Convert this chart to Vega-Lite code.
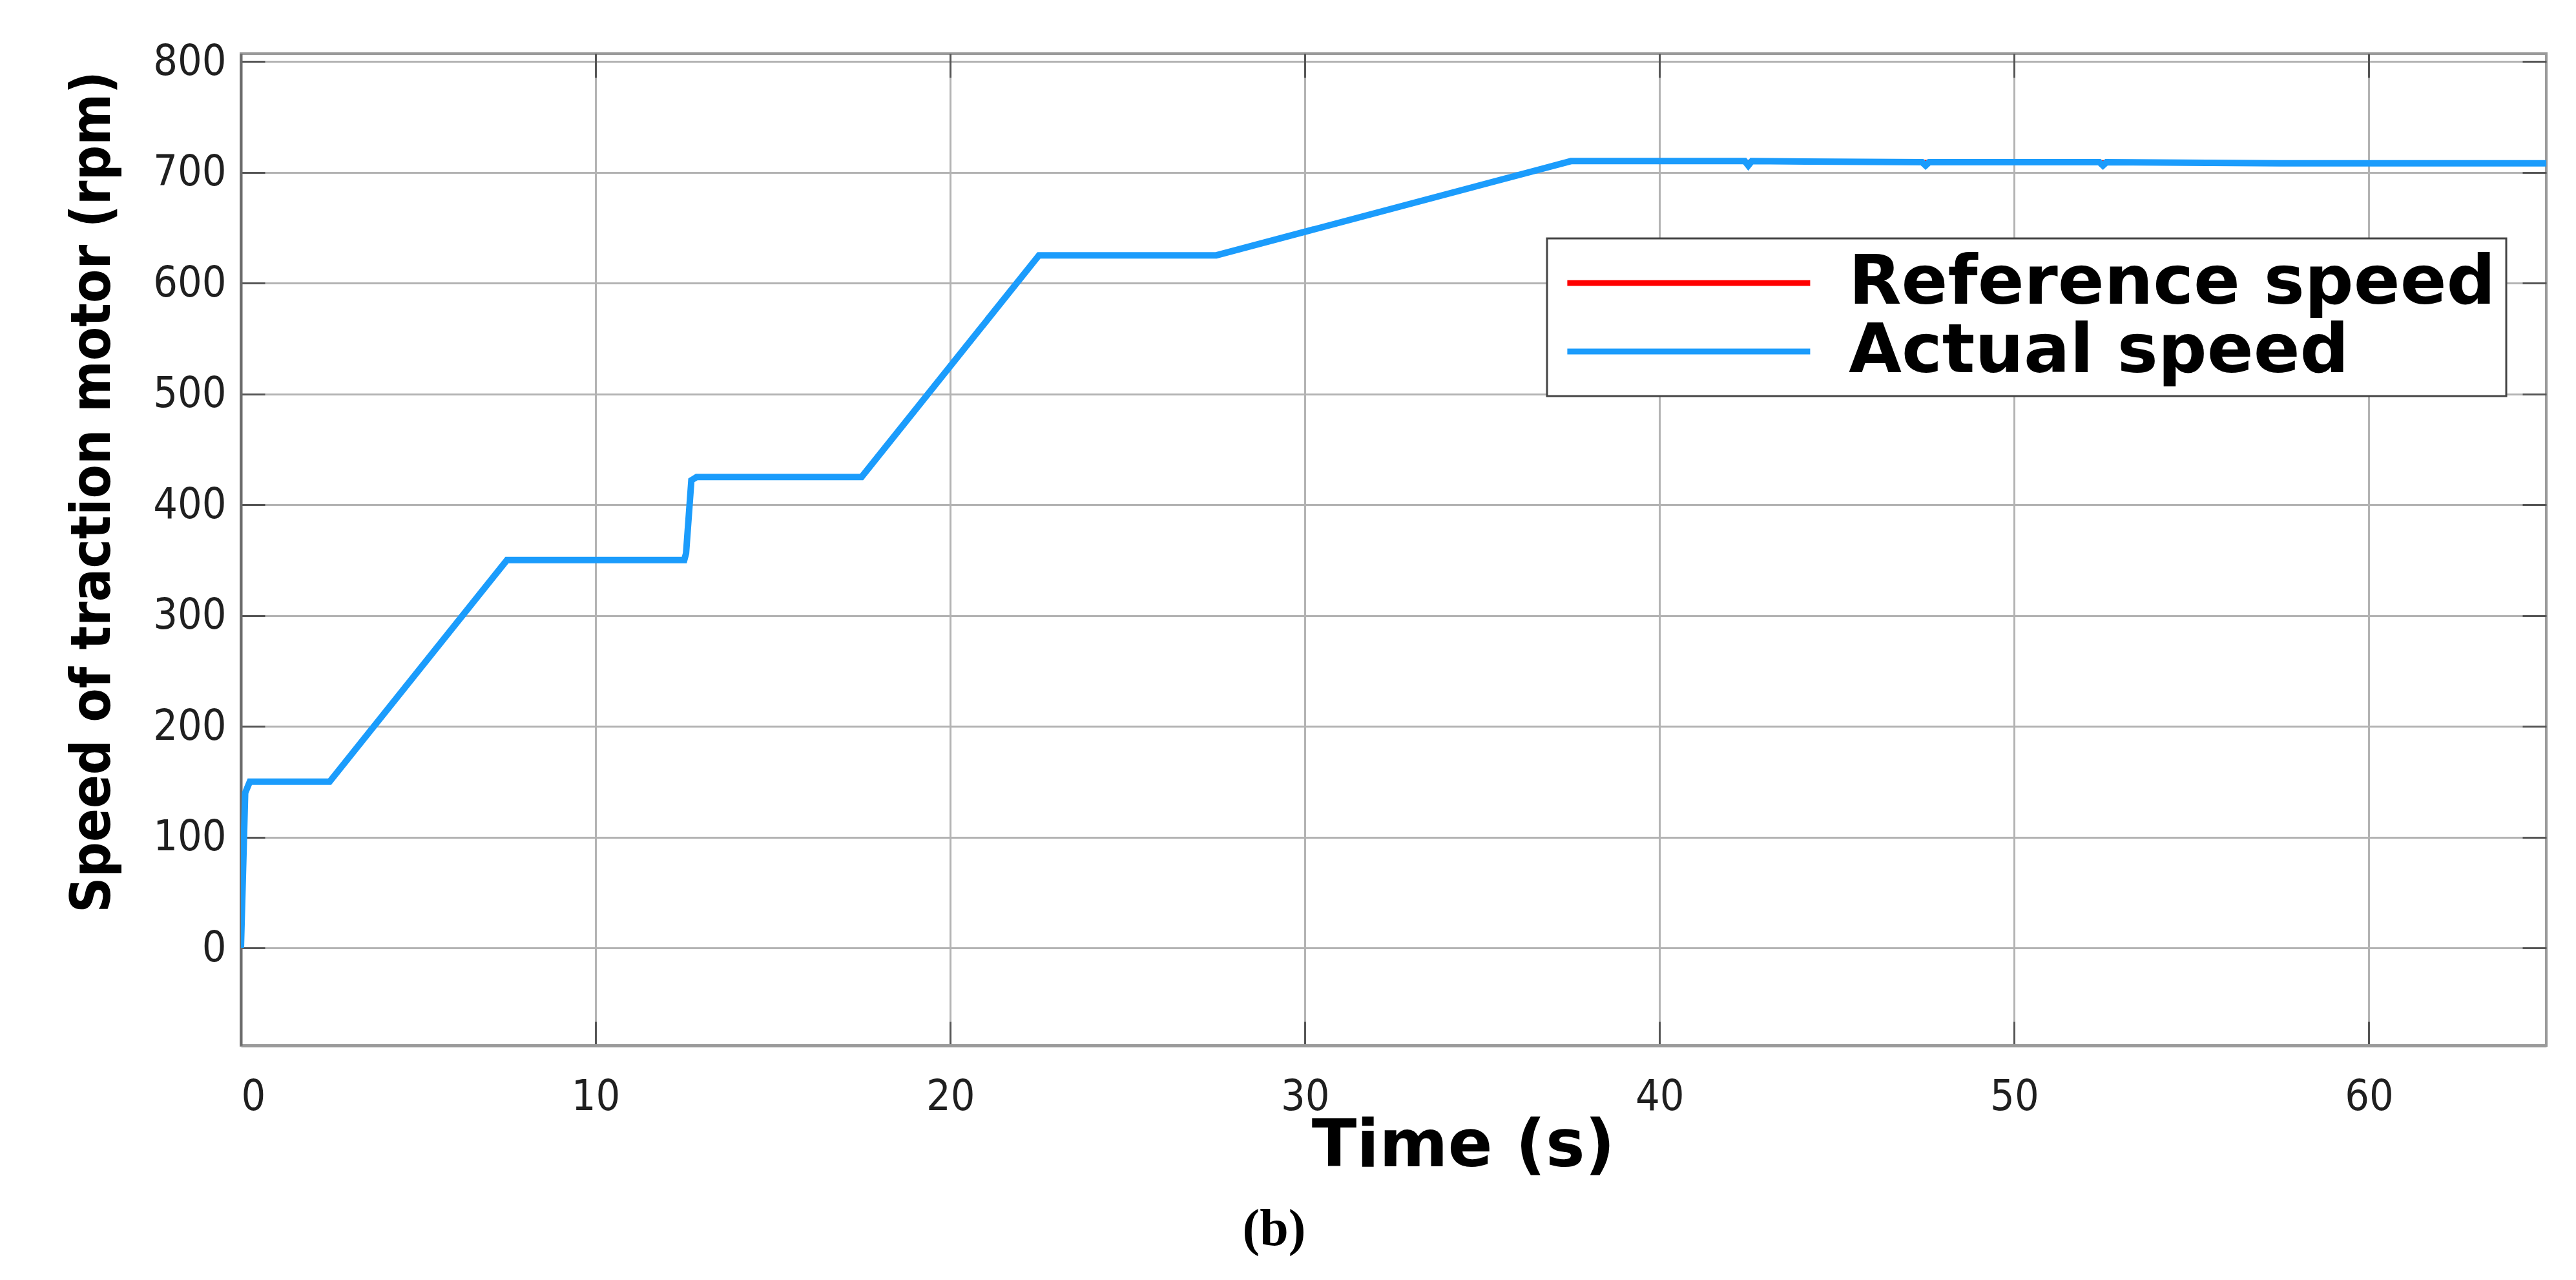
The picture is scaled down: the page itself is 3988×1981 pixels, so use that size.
{
  "$schema": "https://vega.github.io/schema/vega-lite/v6.json",
  "autosize": {"type": "none"},
  "padding": {"left": 373, "top": 83, "right": 46, "bottom": 363},
  "width": 3569,
  "height": 1535,
  "background": "white",
  "title": {
    "text": "(b)",
    "orient": "bottom",
    "anchor": "middle",
    "frame": "group",
    "dx": -185,
    "offset": 40,
    "font": "Liberation Serif",
    "fontWeight": "bold",
    "fontSize": 80,
    "color": "#000000"
  },
  "config": {
    "view": {"stroke": "#9a9a9a", "strokeWidth": 4},
    "legend": {"strokeWidth": 3}
  },
  "datasets": {
    "speed": [
      {"t": 0, "v": 0, "series": "Reference speed"},
      {"t": 0.12, "v": 140, "series": "Reference speed"},
      {"t": 0.25, "v": 150, "series": "Reference speed"},
      {"t": 2.5, "v": 150, "series": "Reference speed"},
      {"t": 7.5, "v": 350, "series": "Reference speed"},
      {"t": 12.5, "v": 350, "series": "Reference speed"},
      {"t": 12.55, "v": 356, "series": "Reference speed"},
      {"t": 12.7, "v": 422, "series": "Reference speed"},
      {"t": 12.85, "v": 425, "series": "Reference speed"},
      {"t": 17.5, "v": 425, "series": "Reference speed"},
      {"t": 22.5, "v": 625, "series": "Reference speed"},
      {"t": 27.5, "v": 625, "series": "Reference speed"},
      {"t": 37.5, "v": 710, "series": "Reference speed"},
      {"t": 65, "v": 709, "series": "Reference speed"},
      {"t": 0, "v": 0, "series": "Actual speed"},
      {"t": 0.12, "v": 140, "series": "Actual speed"},
      {"t": 0.25, "v": 150, "series": "Actual speed"},
      {"t": 2.5, "v": 150, "series": "Actual speed"},
      {"t": 7.5, "v": 350, "series": "Actual speed"},
      {"t": 12.5, "v": 350, "series": "Actual speed"},
      {"t": 12.55, "v": 356, "series": "Actual speed"},
      {"t": 12.7, "v": 422, "series": "Actual speed"},
      {"t": 12.85, "v": 425, "series": "Actual speed"},
      {"t": 17.5, "v": 425, "series": "Actual speed"},
      {"t": 22.5, "v": 625, "series": "Actual speed"},
      {"t": 27.5, "v": 625, "series": "Actual speed"},
      {"t": 37.5, "v": 710, "series": "Actual speed"},
      {"t": 42.4, "v": 710, "series": "Actual speed"},
      {"t": 42.5, "v": 706, "series": "Actual speed"},
      {"t": 42.6, "v": 710, "series": "Actual speed"},
      {"t": 47.4, "v": 709, "series": "Actual speed"},
      {"t": 47.5, "v": 706, "series": "Actual speed"},
      {"t": 47.6, "v": 709, "series": "Actual speed"},
      {"t": 52.4, "v": 709, "series": "Actual speed"},
      {"t": 52.5, "v": 706, "series": "Actual speed"},
      {"t": 52.6, "v": 709, "series": "Actual speed"},
      {"t": 57.5, "v": 708, "series": "Actual speed"},
      {"t": 62.5, "v": 708, "series": "Actual speed"},
      {"t": 65, "v": 708, "series": "Actual speed"}
    ]
  },
  "data": {"name": "speed"},
  "resolve": {"axis": {"x": "independent", "y": "independent"}},
  "layer": [
    {
      "transform": [{"filter": "datum.series === 'Reference speed'"}],
      "mark": {"type": "line", "strokeWidth": 5, "clip": true},
      "encoding": {
        "x": {
          "field": "t", "type": "quantitative",
          "scale": {"domain": [0, 65], "nice": false, "zero": false},
          "axis": {
            "orient": "bottom",
            "values": [0, 10, 20, 30, 40, 50, 60],
            "title": "Time (s)",
            "titleFont": "DejaVu Sans", "titleFontWeight": "bold", "titleFontSize": 102,
            "titleColor": "#000000",
            "titleX": 1892, "titleY": 186, "titleAlign": "center", "titleBaseline": "alphabetic",
            "labelFont": "Liberation Sans Narrow, DejaVu Sans Condensed, Liberation Sans",
            "labelFontSize": 66, "labelColor": "#1f1f1f", "labelPadding": 84,
            "grid": true, "gridColor": "#b3b3b3", "gridWidth": 3,
            "domainColor": "#9a9a9a", "domainWidth": 5,
            "ticks": true, "tickSize": -37, "tickColor": "#555555", "tickWidth": 3
          }
        },
        "y": {
          "field": "v", "type": "quantitative",
          "scale": {"domain": [-88, 807], "nice": false, "zero": false},
          "axis": {
            "orient": "left",
            "values": [0, 100, 200, 300, 400, 500, 600, 700, 800],
            "title": "Speed of traction motor (rpm)",
            "titleFont": "Liberation Sans Narrow, DejaVu Sans Condensed, Liberation Sans",
            "titleFontWeight": "bold", "titleFontSize": 85, "titleColor": "#000000",
            "titleAngle": -90, "titleX": -204, "titleY": 678, "titleAlign": "center", "titleBaseline": "alphabetic",
            "labelFont": "Liberation Sans Narrow, DejaVu Sans Condensed, Liberation Sans",
            "labelFontSize": 66, "labelColor": "#1f1f1f", "labelPadding": 60,
            "grid": true, "gridColor": "#b3b3b3", "gridWidth": 3,
            "domainColor": "#6b6b6b", "domainWidth": 4,
            "ticks": true, "tickSize": -37, "tickColor": "#555555", "tickWidth": 3
          }
        },
        "color": {
          "field": "series", "type": "nominal",
          "scale": {"domain": ["Reference speed", "Actual speed"], "range": ["#ff0000", "#1b9cfc"]},
          "legend": {
            "title": null,
            "orient": "none",
            "legendX": 2022,
            "legendY": 286,
            "direction": "vertical",
            "fillColor": "#ffffff",
            "strokeColor": "#444444",
            "padding": 16,
            "rowPadding": 0,
            "symbolType": "M-1,0H9",
            "symbolSize": 5655,
            "symbolStrokeWidth": 9,
            "labelOffset": 345,
            "labelFont": "DejaVu Sans",
            "labelFontWeight": "bold",
            "labelFontSize": 106,
            "labelColor": "#000000",
            "labelLimit": 3000
          }
        }
      }
    },
    {
      "transform": [{"filter": "datum.series === 'Actual speed'"}],
      "mark": {"type": "line", "strokeWidth": 10, "clip": true},
      "encoding": {
        "x": {
          "field": "t", "type": "quantitative",
          "scale": {"domain": [0, 65], "nice": false, "zero": false},
          "axis": {
            "orient": "top", "values": [0, 10, 20, 30, 40, 50, 60],
            "labels": false, "title": null, "grid": false, "domain": false,
            "ticks": true, "tickSize": -37, "tickColor": "#555555", "tickWidth": 3
          }
        },
        "y": {
          "field": "v", "type": "quantitative",
          "scale": {"domain": [-88, 807], "nice": false, "zero": false},
          "axis": {
            "orient": "right", "values": [0, 100, 200, 300, 400, 500, 600, 700, 800],
            "labels": false, "title": null, "grid": false, "domain": false,
            "ticks": true, "tickSize": -37, "tickColor": "#555555", "tickWidth": 3
          }
        },
        "color": {
          "field": "series", "type": "nominal",
          "scale": {"domain": ["Reference speed", "Actual speed"], "range": ["#ff0000", "#1b9cfc"]}
        }
      }
    }
  ]
}
